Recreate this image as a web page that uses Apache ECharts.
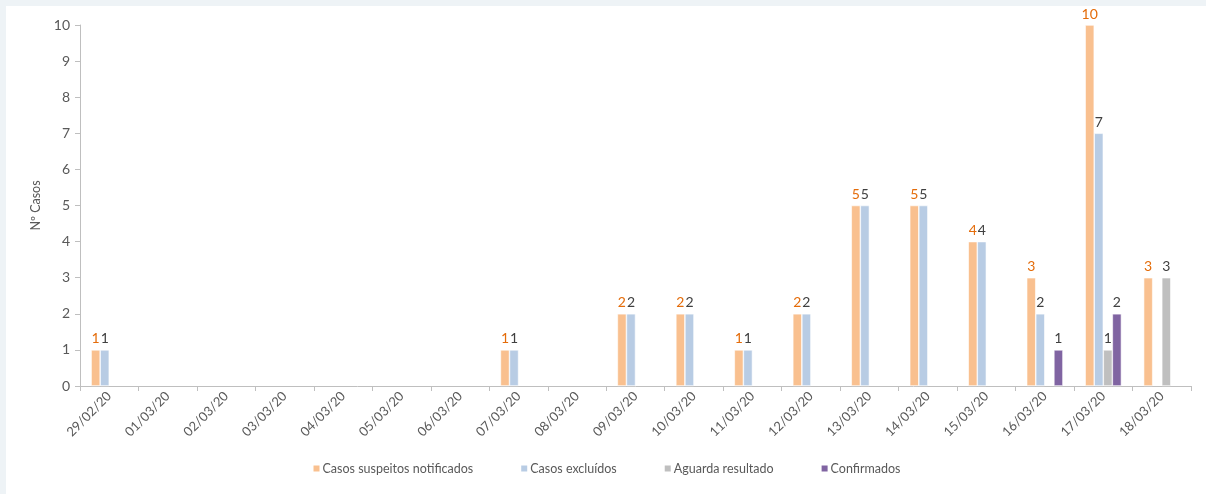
<!DOCTYPE html>
<html>
<head>
<meta charset="utf-8">
<script src="https://cdn.jsdelivr.net/npm/echarts@6/dist/echarts.min.js"></script>
<style>
html,body{margin:0;padding:0;background:#eef3f6;width:1206px;height:494px;overflow:hidden;}
#c{position:absolute;left:6px;top:6px;width:1200px;height:488px;background:#fff;}
</style>
</head>
<body>
<div id="c"></div>
<script>
var categories = ['29/02/20','01/03/20','02/03/20','03/03/20','04/03/20','05/03/20','06/03/20','07/03/20','08/03/20','09/03/20','10/03/20','11/03/20','12/03/20','13/03/20','14/03/20','15/03/20','16/03/20','17/03/20','18/03/20'];
var suspeitos = [1,0,0,0,0,0,0,1,0,2,2,1,2,5,5,4,3,10,3];
var excluidos = [1,0,0,0,0,0,0,1,0,2,2,1,2,5,5,4,2,7,0];
var aguarda   = [0,0,0,0,0,0,0,0,0,0,0,0,0,0,0,0,0,1,3];
var confirmados=[0,0,0,0,0,0,0,0,0,0,0,0,0,0,0,0,1,2,0];
var yTicks = [0,1,2,3,4,5,6,7,8,9,10];

var FONT = 'Lato, "Open Sans", sans-serif';
function nz(arr){ return arr.map(function(v){ return v === 0 ? null : v; }); }
function mk(name, data, color, labelColor){
  return {
    name: name, type: 'bar', data: nz(data),
    barGap: '0%', barCategoryGap: '38%',
    itemStyle: {color: color, borderColor: '#ffffff', borderWidth: 0.6},
    label: {show: true, position: 'top', color: labelColor, fontSize: 14, fontFamily: FONT, distance: 4},
    emphasis: {disabled: true}
  };
}
var chart = echarts.init(document.getElementById('c'));
chart.setOption({
  animation: false,
  textStyle: {fontFamily: FONT},
  grid: {left: 74, right: 15, top: 19, bottom: 108, containLabel: false},
  legend: {
    bottom: 14, left: 'center', itemWidth: 8, itemHeight: 8, itemGap: 46,
    icon: 'rect',
    textStyle: {color: '#595959', fontSize: 12.5, fontFamily: FONT, padding: [0,0,0,-3]},
    data: ['Casos suspeitos notificados','Casos excluídos','Aguarda resultado','Confirmados']
  },
  xAxis: {
    type: 'category', data: categories,
    axisLine: {lineStyle: {color: '#bfbfbf'}},
    axisTick: {show: true, alignWithLabel: false, length: 5, lineStyle: {color: '#bfbfbf'}},
    axisLabel: {rotate: 45, color: '#595959', fontSize: 13, fontFamily: FONT, interval: 0, margin: 8}
  },
  yAxis: {
    type: 'value', min: yTicks[0], max: yTicks[yTicks.length-1], interval: 1,
    name: 'Nº Casos', nameLocation: 'middle', nameGap: 34, nameRotate: 90,
    nameTextStyle: {color: '#595959', fontSize: 12.5, fontFamily: FONT},
    axisLine: {show: true, lineStyle: {color: '#bfbfbf'}},
    axisTick: {show: true, length: 5, lineStyle: {color: '#bfbfbf'}},
    splitLine: {show: false},
    axisLabel: {color: '#595959', fontSize: 14, fontFamily: FONT, margin: 10}
  },
  series: [
    mk('Casos suspeitos notificados', suspeitos, '#f9c08f', '#e46c0a'),
    mk('Casos excluídos', excluidos, '#b8cce4', '#404040'),
    mk('Aguarda resultado', aguarda, '#bfbfbf', '#404040'),
    mk('Confirmados', confirmados, '#8064a2', '#404040')
  ]
});
</script>
</body>
</html>
